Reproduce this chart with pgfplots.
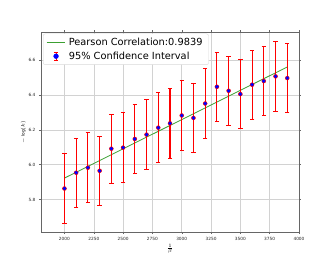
\documentclass[border=0pt]{standalone}
\usepackage{fontspec}
\setmainfont{DejaVu Sans}
\usepackage{pgfplots}
\pgfplotsset{compat=1.18}
\definecolor{fitgreen}{RGB}{60,160,50}
\definecolor{mplblue}{RGB}{0,0,255}
\definecolor{mplred}{RGB}{255,0,0}
\pgfplotstableread{
x y e
2000 5.863 0.2
2100 5.954 0.2
2200 5.983 0.2
2300 5.965 0.2
2400 6.092 0.2
2500 6.098 0.2
2600 6.148 0.2
2700 6.173 0.2
2800 6.213 0.2
2900 6.238 0.2
3000 6.283 0.2
3100 6.269 0.2
3200 6.352 0.2
3300 6.448 0.2
3400 6.425 0.2
3500 6.406 0.2
3600 6.460 0.2
3700 6.481 0.2
3800 6.508 0.2
3900 6.498 0.2
}\datatable
\begin{document}
\begin{tikzpicture}
\begin{axis}[
  at={(0pt,0pt)}, anchor=south west,
  scale only axis,
  width=258pt, height=200pt,
  xmin=1800, xmax=4000,
  ymin=5.613, ymax=6.763,
  xtick={2000,2250,2500,2750,3000,3250,3500,3750,4000},
  ytick={5.8,6.0,6.2,6.4,6.6},
  yticklabel style={/pgf/number format/.cd,fixed,fixed zerofill,precision=1},
  xticklabel style={/pgf/number format/.cd,set thousands separator={}},
  /pgf/number format/assume math mode=true,
  tick label style={font=\fontsize{4.3}{5}\selectfont, text=black!85},
  grid=major,
  major grid style={gray!35, line width=0.5pt},
  axis line style={gray!80!black, line width=0.6pt},
  tick align=outside,
  major tick length=2pt,
  tick style={gray!80!black, line width=0.4pt},
  xlabel={$\frac{1}{\beta}$},
  ylabel={$-\log(k)$},
  label style={font=\fontsize{4.3}{5}\selectfont},
  xlabel style={yshift=3pt},
  ylabel style={yshift=-4pt},
  legend style={at={(0.008,0.992)}, anchor=north west,
    font=\fontsize{9.8}{11.5}\selectfont,
    draw=gray!30, rounded corners=2pt, fill=white,
    inner xsep=3pt, inner ysep=2pt, row sep=1pt,
    nodes={inner xsep=3pt}},
  legend cell align=left,
]
\addplot[fitgreen, line width=0.8pt,
  legend image code/.code={\draw[fitgreen, line width=0.8pt] (0cm,0cm) -- (0.66cm,0cm);}]
  coordinates {(2000,5.923) (3900,6.562)};
\addlegendentry{Pearson Correlation:0.9839}
\addplot[mplred, only marks, mark=none, forget plot,
  error bars/.cd, y dir=both, y explicit,
  error bar style={line width=1.1pt},
  error mark options={line width=0.8pt, rotate=90, mark size=2.2pt},
  ] table[x=x, y=y, y error=e] {\datatable};
\addplot[mplblue, only marks, mark=*, mark size=1.6pt, forget plot]
  table[x=x, y=y] {\datatable};
\addlegendimage{legend image code/.code={
  \draw[mplred, line width=1.1pt] (0.33cm,-0.13cm) -- (0.33cm,0.13cm);
  \draw[mplred, line width=0.8pt] (0.25cm,-0.13cm) -- (0.41cm,-0.13cm);
  \draw[mplred, line width=0.8pt] (0.25cm,0.13cm) -- (0.41cm,0.13cm);
  \fill[mplblue] (0.33cm,0cm) circle (2.4pt);
}}
\addlegendentry{95\% Confidence Interval}
\end{axis}
\useasboundingbox (-41pt,-34pt) rectangle (291pt,232pt);
\end{tikzpicture}
\end{document}
